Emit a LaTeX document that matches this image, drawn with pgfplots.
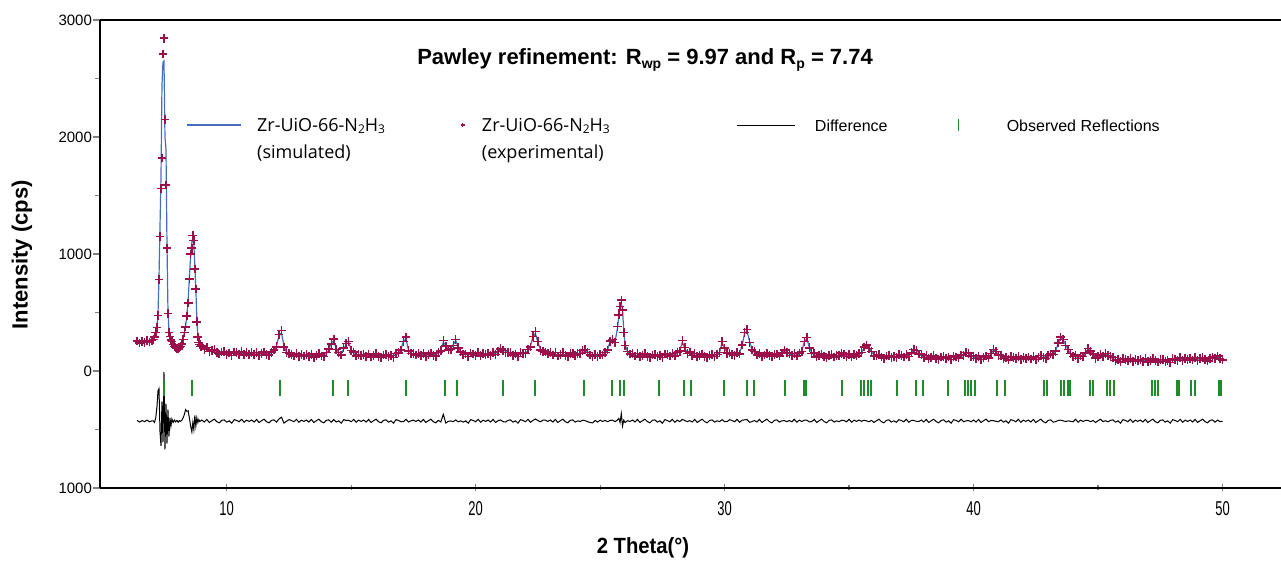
\documentclass[border=0pt]{standalone}
\usepackage{fontspec}
\setmainfont{Liberation Sans}
\newfontfamily\osans{Open Sans}
\usepackage{pgfplots}
\usepackage{pgfplotstable}
\pgfplotsset{compat=1.18}

\definecolor{simblue}{RGB}{70,110,190}
\definecolor{expred}{RGB}{155,15,75}
\definecolor{reflgreen}{RGB}{30,140,40}

\newcommand\sub[1]{\raisebox{-0.15em}{\fontsize{7pt}{7pt}\selectfont #1}}
\newcommand\lsub[1]{\raisebox{-0.1em}{\fontsize{6pt}{6pt}\selectfont #1}}
\newcommand\xl[1]{\scalebox{0.65}[1]{#1}}

% columns: 2theta, observed, calculated (Pawley fit), difference (offset)
\pgfplotstableread{
x obs calc diff
6.40 256 250 -422
6.50 240 249 -437
6.60 252 248 -424
6.70 244 249 -433
6.80 259 251 -420
6.90 248 254 -434
7.00 262 260 -426
7.05 270 268 -427
7.10 290 292 -440
7.15 330 335 -400
7.20 372 385 -300
7.24 475 490 -170
7.28 780 800 -150
7.32 1150 1230 -520
7.36 1560 1650 -640
7.40 1820 2450 -260
7.44 2710 2640 -610
7.48 2845 2650 -10
7.52 2150 2000 -670
7.56 1590 1900 -280
7.60 1050 1100 -620
7.64 490 520 -330
7.68 330 340 -560
7.72 295 290 -400
7.76 265 262 -470
7.80 250 245 -410
7.85 225 228 -440
7.90 210 215 -420
7.95 200 205 -435
8.00 195 196 -422
8.05 190 195 -438
8.10 200 198 -424
8.15 210 210 -430
8.20 230 232 -420
8.25 270 275 -400
8.30 330 335 -370
8.35 376 385 -330
8.40 470 480 -345
8.45 581 600 -340
8.50 787 800 -400
8.55 1000 980 -470
8.60 1050 1100 -520
8.64 1157 1140 -440
8.68 1114 1080 -500
8.72 872 900 -380
8.76 701 700 -470
8.80 420 450 -400
8.84 290 300 -440
8.88 245 255 -415
8.92 225 232 -432
8.96 210 215 -425
9.0 214 205 -419
9.1 187 195 -436
9.2 200 186 -414
9.3 166 178 -440
9.4 175 172 -425
9.5 183 167 -412
9.6 158 163 -433
9.7 145 160 -443
9.8 163 157 -422
9.9 165 155 -418
10.0 144 153 -437
10.1 154 152 -426
10.2 133 151 -446
10.3 162 150 -416
10.4 155 150 -423
10.5 143 149 -434
10.6 164 149 -413
10.7 138 148 -438
10.8 156 148 -420
10.9 144 147 -431
11.0 156 147 -419
11.1 138 146 -436
11.2 160 146 -414
11.3 134 146 -440
11.4 149 146 -425
11.5 163 147 -412
11.6 143 148 -433
11.7 135 150 -443
11.8 161 155 -422
11.9 180 170 -418
12.0 206 215 -437
12.1 310 300 -410
12.2 345 325 -395
12.3 205 215 -445
12.4 160 160 -430
12.5 152 140 -416
12.6 142 137 -423
12.7 129 135 -434
12.8 149 134 -413
12.9 123 133 -438
13.0 140 132 -420
13.1 129 132 -431
13.2 140 131 -419
13.3 123 131 -436
13.4 144 130 -414
13.5 118 130 -440
13.6 133 130 -425
13.7 147 131 -412
13.8 128 133 -433
13.9 123 138 -443
14.0 156 150 -422
14.1 190 180 -418
14.2 231 240 -437
14.3 274 262 -416
14.4 182 190 -436
14.5 157 155 -426
14.6 137 155 -446
14.7 197 185 -416
14.8 235 230 -423
14.9 252 245 -421
15.0 174 180 -434
15.1 163 148 -413
15.2 128 138 -438
15.3 143 135 -420
15.4 131 134 -431
15.5 142 133 -419
15.6 124 132 -436
15.7 146 132 -414
15.8 119 131 -440
15.9 134 131 -425
16.0 147 131 -412
16.1 125 130 -433
16.2 115 130 -443
16.3 136 130 -422
16.4 140 130 -418
16.5 122 131 -437
16.6 134 132 -426
16.7 116 134 -446
16.8 150 138 -416
16.9 155 150 -423
17.0 179 185 -434
17.1 250 255 -433
17.2 290 275 -413
17.3 172 180 -436
17.4 150 148 -426
17.5 150 142 -420
17.6 137 140 -431
17.7 148 139 -419
17.8 130 138 -436
17.9 152 138 -414
18.0 125 137 -440
18.1 140 137 -425
18.2 154 138 -412
18.3 134 139 -433
18.4 127 142 -443
18.5 156 150 -422
18.6 172 180 -436
18.7 259 245 -370
18.8 212 220 -445
18.9 180 182 -430
19.0 186 185 -427
19.1 220 225 -433
19.2 268 260 -418
19.3 198 205 -435
19.4 162 160 -426
19.5 139 148 -437
19.6 146 144 -426
19.7 124 142 -446
19.8 153 141 -416
19.9 145 140 -423
20.0 134 140 -434
20.1 155 140 -413
20.2 130 140 -438
20.3 148 140 -420
20.4 138 141 -431
20.5 151 142 -419
20.6 135 143 -436
20.7 160 146 -414
20.8 140 152 -440
20.9 168 165 -425
21.0 190 180 -418
21.1 177 182 -433
21.2 160 168 -436
21.3 158 152 -422
21.4 156 146 -418
21.5 135 144 -437
21.6 145 143 -426
21.7 125 143 -446
21.8 156 144 -416
21.9 152 147 -423
22.0 149 155 -434
22.1 185 170 -413
22.2 205 215 -438
22.3 295 290 -423
22.4 336 320 -410
22.5 250 245 -423
22.6 178 185 -435
22.7 170 162 -420
22.8 163 155 -420
22.9 147 150 -431
23.0 155 146 -419
23.1 136 144 -436
23.2 156 142 -414
23.3 129 141 -440
23.4 143 140 -425
23.5 156 140 -412
23.6 135 140 -433
23.7 125 140 -443
23.8 147 141 -422
23.9 152 142 -418
24.0 135 144 -437
24.1 149 147 -426
24.2 151 155 -432
24.3 176 168 -420
24.4 182 178 -424
24.5 159 165 -434
24.6 136 148 -440
24.7 122 138 -444
24.8 139 134 -423
24.9 124 133 -437
25.0 143 135 -420
25.1 137 140 -431
25.2 158 152 -422
25.3 180 185 -433
25.4 255 250 -423
25.5 270 262 -420
25.6 245 250 -433
25.7 380 370 -418
25.75 480 470 -405
25.8 550 560 -440
25.85 607 580 -365
25.9 520 520 -470
25.95 330 340 -420
26.0 220 225 -440
26.1 165 168 -425
26.2 145 148 -431
26.3 149 140 -419
26.4 128 136 -436
26.5 148 134 -414
26.6 121 133 -440
26.7 135 132 -425
26.8 148 132 -412
26.9 126 131 -433
27.0 116 131 -443
27.1 137 131 -422
27.2 141 131 -418
27.3 123 132 -437
27.4 135 133 -426
27.5 115 133 -446
27.6 145 133 -416
27.7 138 133 -423
27.8 128 134 -434
27.9 151 136 -413
28.0 130 140 -438
28.1 158 150 -420
28.2 170 175 -433
28.3 259 245 -414
28.4 200 195 -423
28.5 150 155 -433
28.6 162 158 -424
28.7 134 142 -436
28.8 150 136 -414
28.9 121 133 -440
29.0 134 131 -425
29.1 146 130 -412
29.2 124 129 -433
29.3 114 129 -443
29.4 135 129 -422
29.5 140 130 -418
29.6 124 133 -437
29.7 142 140 -426
29.8 158 162 -432
29.9 250 238 -416
30.0 195 200 -433
30.1 150 155 -433
30.2 154 142 -416
30.3 143 138 -423
30.4 131 137 -434
30.5 155 140 -413
30.6 145 155 -438
30.7 222 215 -421
30.8 330 320 -418
30.9 353 340 -415
31.0 245 255 -438
31.1 180 185 -433
31.2 165 160 -423
31.3 137 145 -436
31.4 152 138 -414
31.5 123 135 -440
31.6 137 134 -425
31.7 152 136 -412
31.8 135 140 -433
31.9 123 138 -443
32.0 141 135 -422
32.1 145 135 -418
32.2 129 138 -437
32.3 154 152 -426
32.4 180 176 -424
32.5 160 165 -433
32.6 150 145 -423
32.7 132 138 -434
32.8 151 136 -413
32.9 128 138 -438
33.0 153 145 -420
33.1 168 172 -432
33.2 252 245 -421
33.3 288 280 -420
33.4 198 205 -435
33.5 150 155 -433
33.6 152 138 -414
33.7 121 133 -440
33.8 134 131 -425
33.9 146 130 -412
34.0 124 129 -433
34.1 113 128 -443
34.2 134 128 -422
34.3 138 128 -418
34.4 120 129 -437
34.5 133 131 -426
34.6 130 135 -433
34.7 152 145 -421
34.8 141 136 -423
34.9 125 131 -434
35.0 144 129 -413
35.1 119 129 -438
35.2 138 130 -420
35.3 130 133 -431
35.4 149 140 -419
35.5 158 160 -430
35.6 205 198 -421
35.7 222 220 -426
35.8 192 198 -434
35.9 168 162 -422
36.0 128 140 -440
36.1 134 131 -425
36.2 143 127 -412
36.3 120 125 -433
36.4 109 124 -443
36.5 129 123 -422
36.6 133 123 -418
36.7 114 123 -437
36.8 126 124 -426
36.9 115 126 -439
37.0 139 127 -416
37.1 131 126 -423
37.2 120 126 -434
37.3 143 128 -413
37.4 124 134 -438
37.5 155 150 -423
37.6 185 180 -423
37.7 176 178 -430
37.8 146 150 -432
37.9 139 130 -419
38.0 114 122 -436
38.1 132 118 -414
38.2 104 116 -440
38.3 118 115 -425
38.4 130 114 -412
38.5 109 114 -433
38.6 99 114 -443
38.7 120 114 -422
38.8 125 115 -418
38.9 107 116 -437
39.0 120 118 -426
39.1 99 117 -446
39.2 127 115 -416
39.3 120 115 -423
39.4 111 117 -434
39.5 137 122 -413
39.6 132 138 -434
39.7 160 158 -426
39.8 152 148 -424
39.9 122 128 -434
40.0 127 118 -419
40.1 107 115 -436
40.2 127 113 -414
40.3 100 112 -440
40.4 115 112 -425
40.5 129 113 -412
40.6 113 118 -433
40.7 150 145 -423
40.8 182 178 -424
40.9 165 168 -431
41.0 135 140 -433
41.1 132 122 -418
41.2 107 116 -437
41.3 118 116 -426
41.4 96 114 -446
41.5 124 112 -416
41.6 116 111 -423
41.7 104 110 -434
41.8 125 110 -413
41.9 100 110 -438
42.0 118 110 -420
42.1 107 110 -431
42.2 119 110 -419
42.3 103 111 -436
42.4 125 111 -414
42.5 100 112 -440
42.6 116 113 -425
42.7 131 115 -412
42.8 113 118 -433
42.9 105 120 -443
43.0 131 125 -422
43.1 145 135 -418
43.2 141 150 -437
43.3 170 175 -433
43.4 240 235 -423
43.5 290 282 -420
43.6 270 268 -426
43.7 218 222 -432
43.8 182 180 -426
43.9 148 150 -430
44.0 122 128 -434
44.1 135 120 -413
44.2 108 118 -438
44.3 128 120 -420
44.4 125 128 -431
44.5 155 150 -423
44.6 194 188 -422
44.7 170 175 -433
44.8 145 140 -423
44.9 110 122 -440
45.0 121 118 -425
45.1 138 122 -412
45.2 127 132 -433
45.3 148 145 -425
45.4 132 138 -434
45.5 124 118 -422
45.6 115 105 -418
45.7 91 100 -437
45.8 100 98 -426
45.9 78 96 -446
46.0 107 95 -416
46.1 99 94 -423
46.2 87 93 -434
46.3 108 93 -413
46.4 82 92 -438
46.5 100 92 -420
46.6 89 92 -431
46.7 100 91 -419
46.8 83 91 -436
46.9 105 91 -414
47.0 78 90 -440
47.1 93 90 -425
47.2 107 91 -412
47.3 87 92 -433
47.4 77 92 -443
47.5 97 91 -422
47.6 100 90 -418
47.7 81 90 -437
47.8 92 90 -426
47.9 73 91 -446
48.0 104 92 -416
48.1 99 94 -423
48.2 90 96 -434
48.3 113 98 -413
48.4 89 99 -438
48.5 108 100 -420
48.6 97 100 -431
48.7 110 101 -419
48.8 94 102 -436
48.9 117 103 -414
49.0 91 103 -440
49.1 105 102 -425
49.2 117 101 -412
49.3 95 100 -433
49.4 86 101 -443
49.5 110 104 -422
49.6 118 108 -418
49.7 106 115 -437
49.8 128 120 -420
49.9 104 108 -432
50.0 95 98 -431
}\patterndata

% Bragg reflection positions (2theta)
\pgfplotstableread{
x y
7.50 -145
8.60 -145
12.15 -145
14.26 -145
14.89 -145
17.19 -145
18.75 -145
19.24 -145
21.09 -145
22.39 -145
24.37 -145
25.47 -145
25.80 -145
25.94 -145
27.35 -145
28.35 -145
28.64 -145
29.98 -145
30.90 -145
31.19 -145
32.42 -145
33.17 -145
33.26 -145
34.70 -145
35.49 -145
35.60 -145
35.76 -145
35.88 -145
36.91 -145
37.68 -145
37.95 -145
38.98 -145
39.67 -145
39.78 -145
39.91 -145
40.04 -145
40.95 -145
41.27 -145
42.81 -145
42.94 -145
43.53 -145
43.65 -145
43.78 -145
43.89 -145
44.69 -145
44.80 -145
45.38 -145
45.49 -145
45.64 -145
47.16 -145
47.29 -145
47.40 -145
48.16 -145
48.27 -145
48.75 -145
48.88 -145
49.87 -145
49.95 -145
}\refldata

\begin{document}
\begin{tikzpicture}
\path[use as bounding box] (-50pt,-39pt) rectangle (590.5pt,244pt);
\begin{axis}[
  at={(0,0)}, anchor=south west,
  scale only axis,
  width=590.5pt, height=234pt,
  xmin=4.91, xmax=52.35,
  ymin=-1000, ymax=3000,
  axis x line=box, axis y line=left,
  axis line style={-, line width=0.8pt},
  xtick pos=left,
  xtick={10,20,30,40,50},
  xticklabels={\xl{10},\xl{20},\xl{30},\xl{40},\xl{50}},
  minor xtick={15,25,35,45},
  ytick={-1000,0,1000,2000,3000},
  yticklabels={1000,0,1000,2000,3000},
  minor ytick={-500,500,1500,2500},
  x tick style={line width=0.6pt},
  y tick style={line width=0.6pt},
  xtick align=center,
  ytick align=outside,
  major tick length=3.5pt,
  minor tick length=2.5pt,
  xticklabel style={font=\fontsize{10pt}{11pt}\selectfont, yshift=-1.5pt},
  yticklabel style={font=\fontsize{7.5pt}{9pt}\selectfont, xshift=3pt},
  xlabel={\scalebox{0.92}[1]{2 Theta(°)}},
  ylabel={Intensity (cps)},
  every axis x label/.style={at={(axis description cs:0.4598,-0.1282)}, anchor=center,
    font=\bfseries\fontsize{11pt}{13pt}\selectfont},
  every axis y label/.style={at={(axis description cs:-0.066,0.4979)}, anchor=center, rotate=90,
    font=\bfseries\fontsize{11pt}{13pt}\selectfont},
  clip=false,
  legend columns=4,
  legend cell align=left,
  legend style={at={(axis description cs:0.0728,0.7449)}, anchor=west,
    draw=none, fill=none, inner sep=0pt, outer sep=0pt,
    nodes={inner sep=0pt, outer sep=0pt, text depth=, text height=},
    column sep=0pt, row sep=0pt},
]
% fitted profile
\addplot[simblue, line width=0.6pt,
  legend image code/.code={\draw[simblue, line width=0.6pt] (0pt,7.2pt) -- (27pt,7.2pt); \path (35pt,7.2pt);}]
  table[x=x, y=calc] {\patterndata};
\addlegendentry{\makebox[98.5pt][l]{\osans\fontsize{9pt}{13.5pt}\selectfont
  \begin{tabular}{@{}l@{}}Zr-UiO-66-N\lsub{2}H\lsub{3}\\(simulated)\end{tabular}}}
% measured pattern
\addplot[only marks, expred, mark=+, mark size=2.2pt, mark options={line width=0.75pt},
  legend image code/.code={\draw[expred, line width=0.4pt] plot[mark=+, mark size=1pt] coordinates {(4pt,7.2pt)}; \path (0pt,7.2pt) (13.5pt,7.2pt);}]
  table[x=x, y=obs] {\patterndata};
\addlegendentry{\makebox[127.5pt][l]{\osans\fontsize{9pt}{13.5pt}\selectfont
  \begin{tabular}{@{}l@{}}Zr-UiO-66-N\lsub{2}H\lsub{3}\\(experimental)\end{tabular}}}
% difference curve
\addplot[black, line width=0.5pt,
  legend image code/.code={\draw[black, line width=0.5pt] (0pt,7pt) -- (29pt,7pt); \path (38.5pt,7pt);}]
  table[x=x, y=diff] {\patterndata};
\addlegendentry{\makebox[67.5pt][l]{\fontsize{8pt}{13.5pt}\selectfont
  \begin{tabular}{@{}l@{}}Difference\\\mbox{}\end{tabular}}}
% reflection markers
\addplot[only marks, reflgreen, mark=|, mark size=4pt, mark options={line width=1pt},
  legend image code/.code={\draw[reflgreen, line width=0.6pt] (4pt,4pt) -- (4pt,10pt); \path (0pt,7pt) (28pt,7pt);}]
  table[x=x, y=y] {\refldata};
\addlegendentry{\makebox[77.5pt][l]{\fontsize{8pt}{13.5pt}\selectfont
  \begin{tabular}{@{}l@{}}Observed Reflections\\\mbox{}\end{tabular}}}

\node[font=\bfseries\fontsize{11pt}{13pt}\selectfont, anchor=center]
  at (axis description cs:0.4615,0.9145)
  {Pawley refinement: R\sub{wp} = 9.97 and R\sub{p} = 7.74};
\end{axis}
\end{tikzpicture}
\end{document}
